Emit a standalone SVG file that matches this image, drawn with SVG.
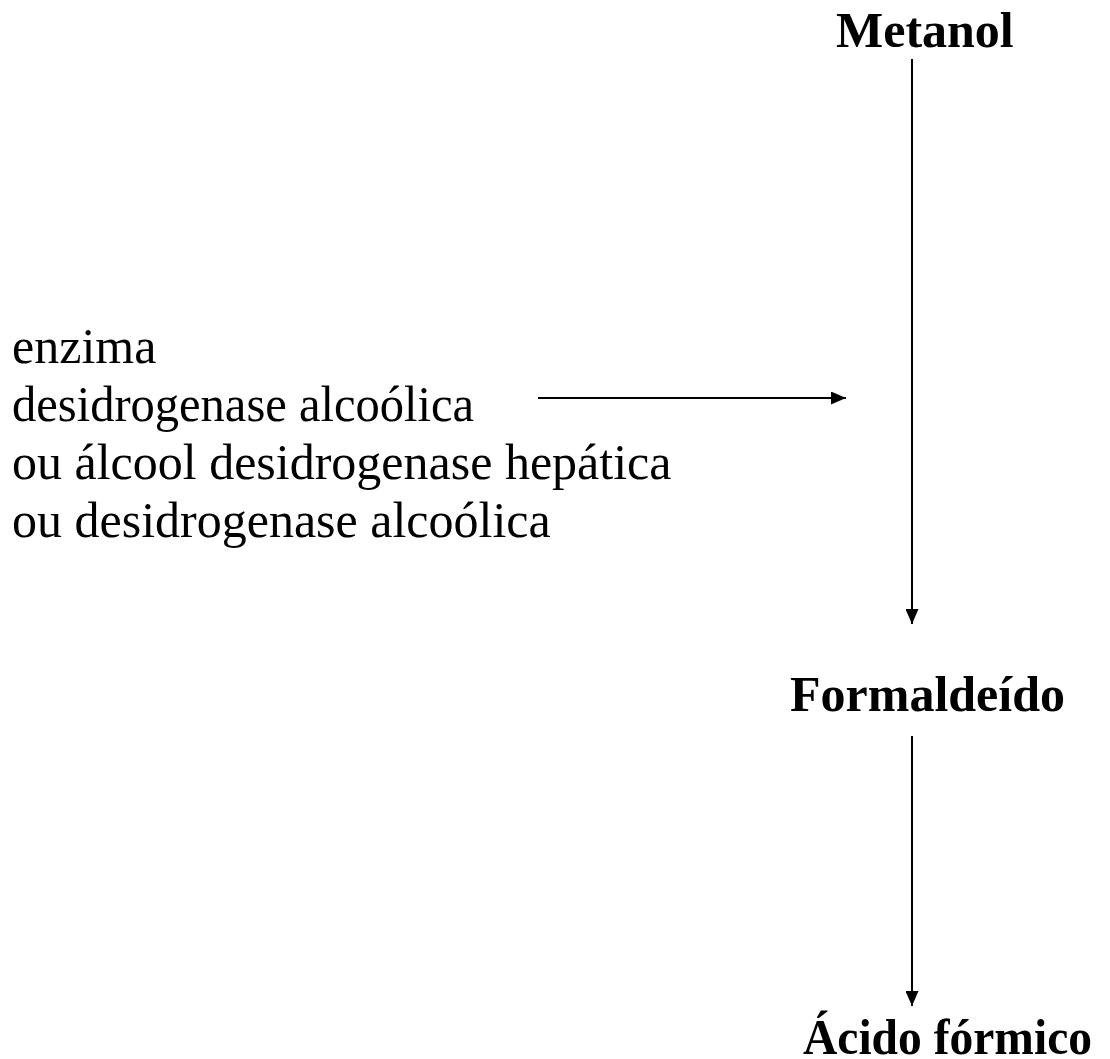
<svg xmlns="http://www.w3.org/2000/svg" width="1110" height="1059" viewBox="0 0 1110 1059">
<style>
.t{font-family:"Liberation Serif","Times New Roman",serif;fill:#000}
.b{font-weight:bold;font-size:50px}
.r{font-size:50px}
.c{stroke:#000;stroke-width:2;fill:none}
</style>
<defs>
<marker id="ah" markerWidth="15" markerHeight="13" refX="15" refY="6.5" orient="auto" markerUnits="userSpaceOnUse">
<path d="M0,0 L15,6.5 L0,13 Z" fill="#000"/>
</marker>
</defs>
<rect width="1110" height="1059" fill="#fff"/>
<g id="metanol"><text class="t b" x="836" y="47">Metanol</text></g>
<g id="formaldeido"><text class="t b" x="790" y="711">Formaldeído</text></g>
<g id="acido"><text class="t b" x="803" y="1054" font-size="48" textLength="289" lengthAdjust="spacingAndGlyphs">Ácido fórmico</text></g>
<g id="enzima">
<text class="t r" x="12" y="363">enzima</text>
<text class="t r" x="12" y="421" textLength="462" lengthAdjust="spacingAndGlyphs">desidrogenase alcoólica</text>
<text class="t r" x="12" y="479">ou álcool desidrogenase hepática</text>
<text class="t r" x="12" y="537">ou desidrogenase alcoólica</text>
</g>
<g id="connectors">
<line class="c" x1="912" y1="59" x2="912" y2="624" marker-end="url(#ah)"/>
<line class="c" x1="912" y1="736" x2="912" y2="1006" marker-end="url(#ah)"/>
<line class="c" x1="538" y1="398" x2="846" y2="398" marker-end="url(#ah)"/>
</g>
</svg>
